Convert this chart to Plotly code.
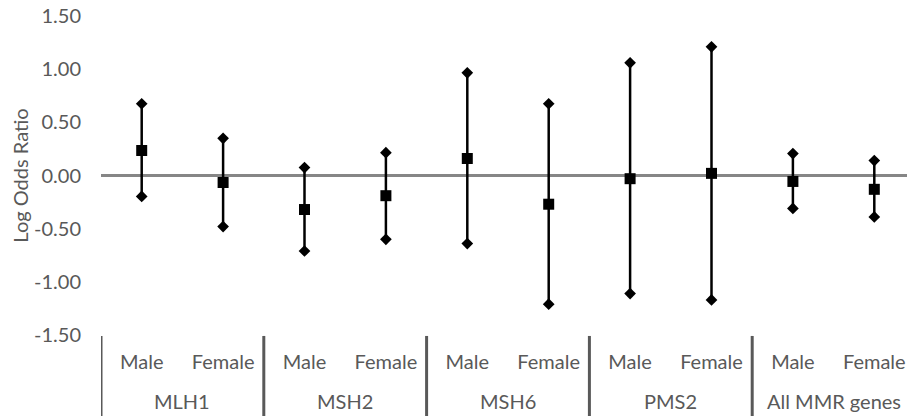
import plotly.graph_objects as go

genes = ["MLH1", "MSH2", "MSH6", "PMS2", "All MMR genes"]
sexes = ["Male", "Female"]
log_or = [0.235, -0.066, -0.32, -0.19, 0.16, -0.27, -0.03, 0.02, -0.056, -0.13]
upper = [0.675, 0.35, 0.075, 0.215, 0.966, 0.675, 1.06, 1.21, 0.206, 0.14]
lower = [-0.197, -0.48, -0.71, -0.60, -0.64, -1.21, -1.11, -1.17, -0.31, -0.39]
y_ticks = [-1.5, -1.0, -0.5, 0.0, 0.5, 1.0, 1.5]

n = len(genes) * len(sexes)
xpos = list(range(n))
tick_text = [s for g in genes for s in sexes]
y_tick_text = [f"{v:.2f}" for v in y_ticks]
err_plus = [u - v for u, v in zip(upper, log_or)]
err_minus = [v - l for v, l in zip(log_or, lower)]

FONT = "Lato"
GRAY = "#595959"
FS = 20

fig = go.Figure()
fig.add_trace(go.Scatter(
    x=xpos, y=log_or, mode="markers",
    marker=dict(symbol="square", size=11, color="black"),
    error_y=dict(type="data", symmetric=False, array=err_plus, arrayminus=err_minus,
                 color="black", thickness=2.5, width=0),
    showlegend=False,
))
fig.add_trace(go.Scatter(
    x=xpos, y=upper, mode="markers",
    marker=dict(symbol="diamond", size=9, color="black"),
    showlegend=False,
))
fig.add_trace(go.Scatter(
    x=xpos, y=lower, mode="markers",
    marker=dict(symbol="diamond", size=9, color="black"),
    showlegend=False,
))

# group labels and dividers
for i, g in enumerate(genes):
    fig.add_annotation(x=2 * i + 0.5, y=-0.207, xref="x", yref="paper",
                       text=g, showarrow=False, yanchor="middle",
                       font=dict(family=FONT, size=FS, color=GRAY))
for k in range(len(genes) + 1):
    fig.add_shape(type="line", xref="x", yref="paper",
                  x0=2 * k - 0.5, x1=2 * k - 0.5, y0=-0.003, y1=-0.254,
                  line=dict(color="#595959", width=3))

fig.update_layout(
    width=907, height=411,
    margin=dict(l=93, r=0, t=8, b=84),
    plot_bgcolor="white", paper_bgcolor="white",
    font=dict(family=FONT, size=FS, color=GRAY),
    xaxis=dict(
        range=[-0.5, n - 0.5], tickvals=xpos, ticktext=tick_text,
        showgrid=False, zeroline=False, showline=False, ticks="",
        ticklabelstandoff=13, automargin=False,
        tickfont=dict(family=FONT, size=FS, color=GRAY),
    ),
    yaxis=dict(
        range=[-1.5, 1.5], tickvals=y_ticks, ticktext=y_tick_text,
        showgrid=False, showline=False,
        zeroline=True, zerolinecolor="#868686", zerolinewidth=3,
        ticklabelstandoff=19, automargin=False, ticklabeloverflow="allow",
        tickfont=dict(family=FONT, size=FS, color=GRAY),
        title=dict(text="Log Odds Ratio", font=dict(family=FONT, size=FS, color=GRAY), standoff=6),
    ),
)

fig.write_html("out.html")
